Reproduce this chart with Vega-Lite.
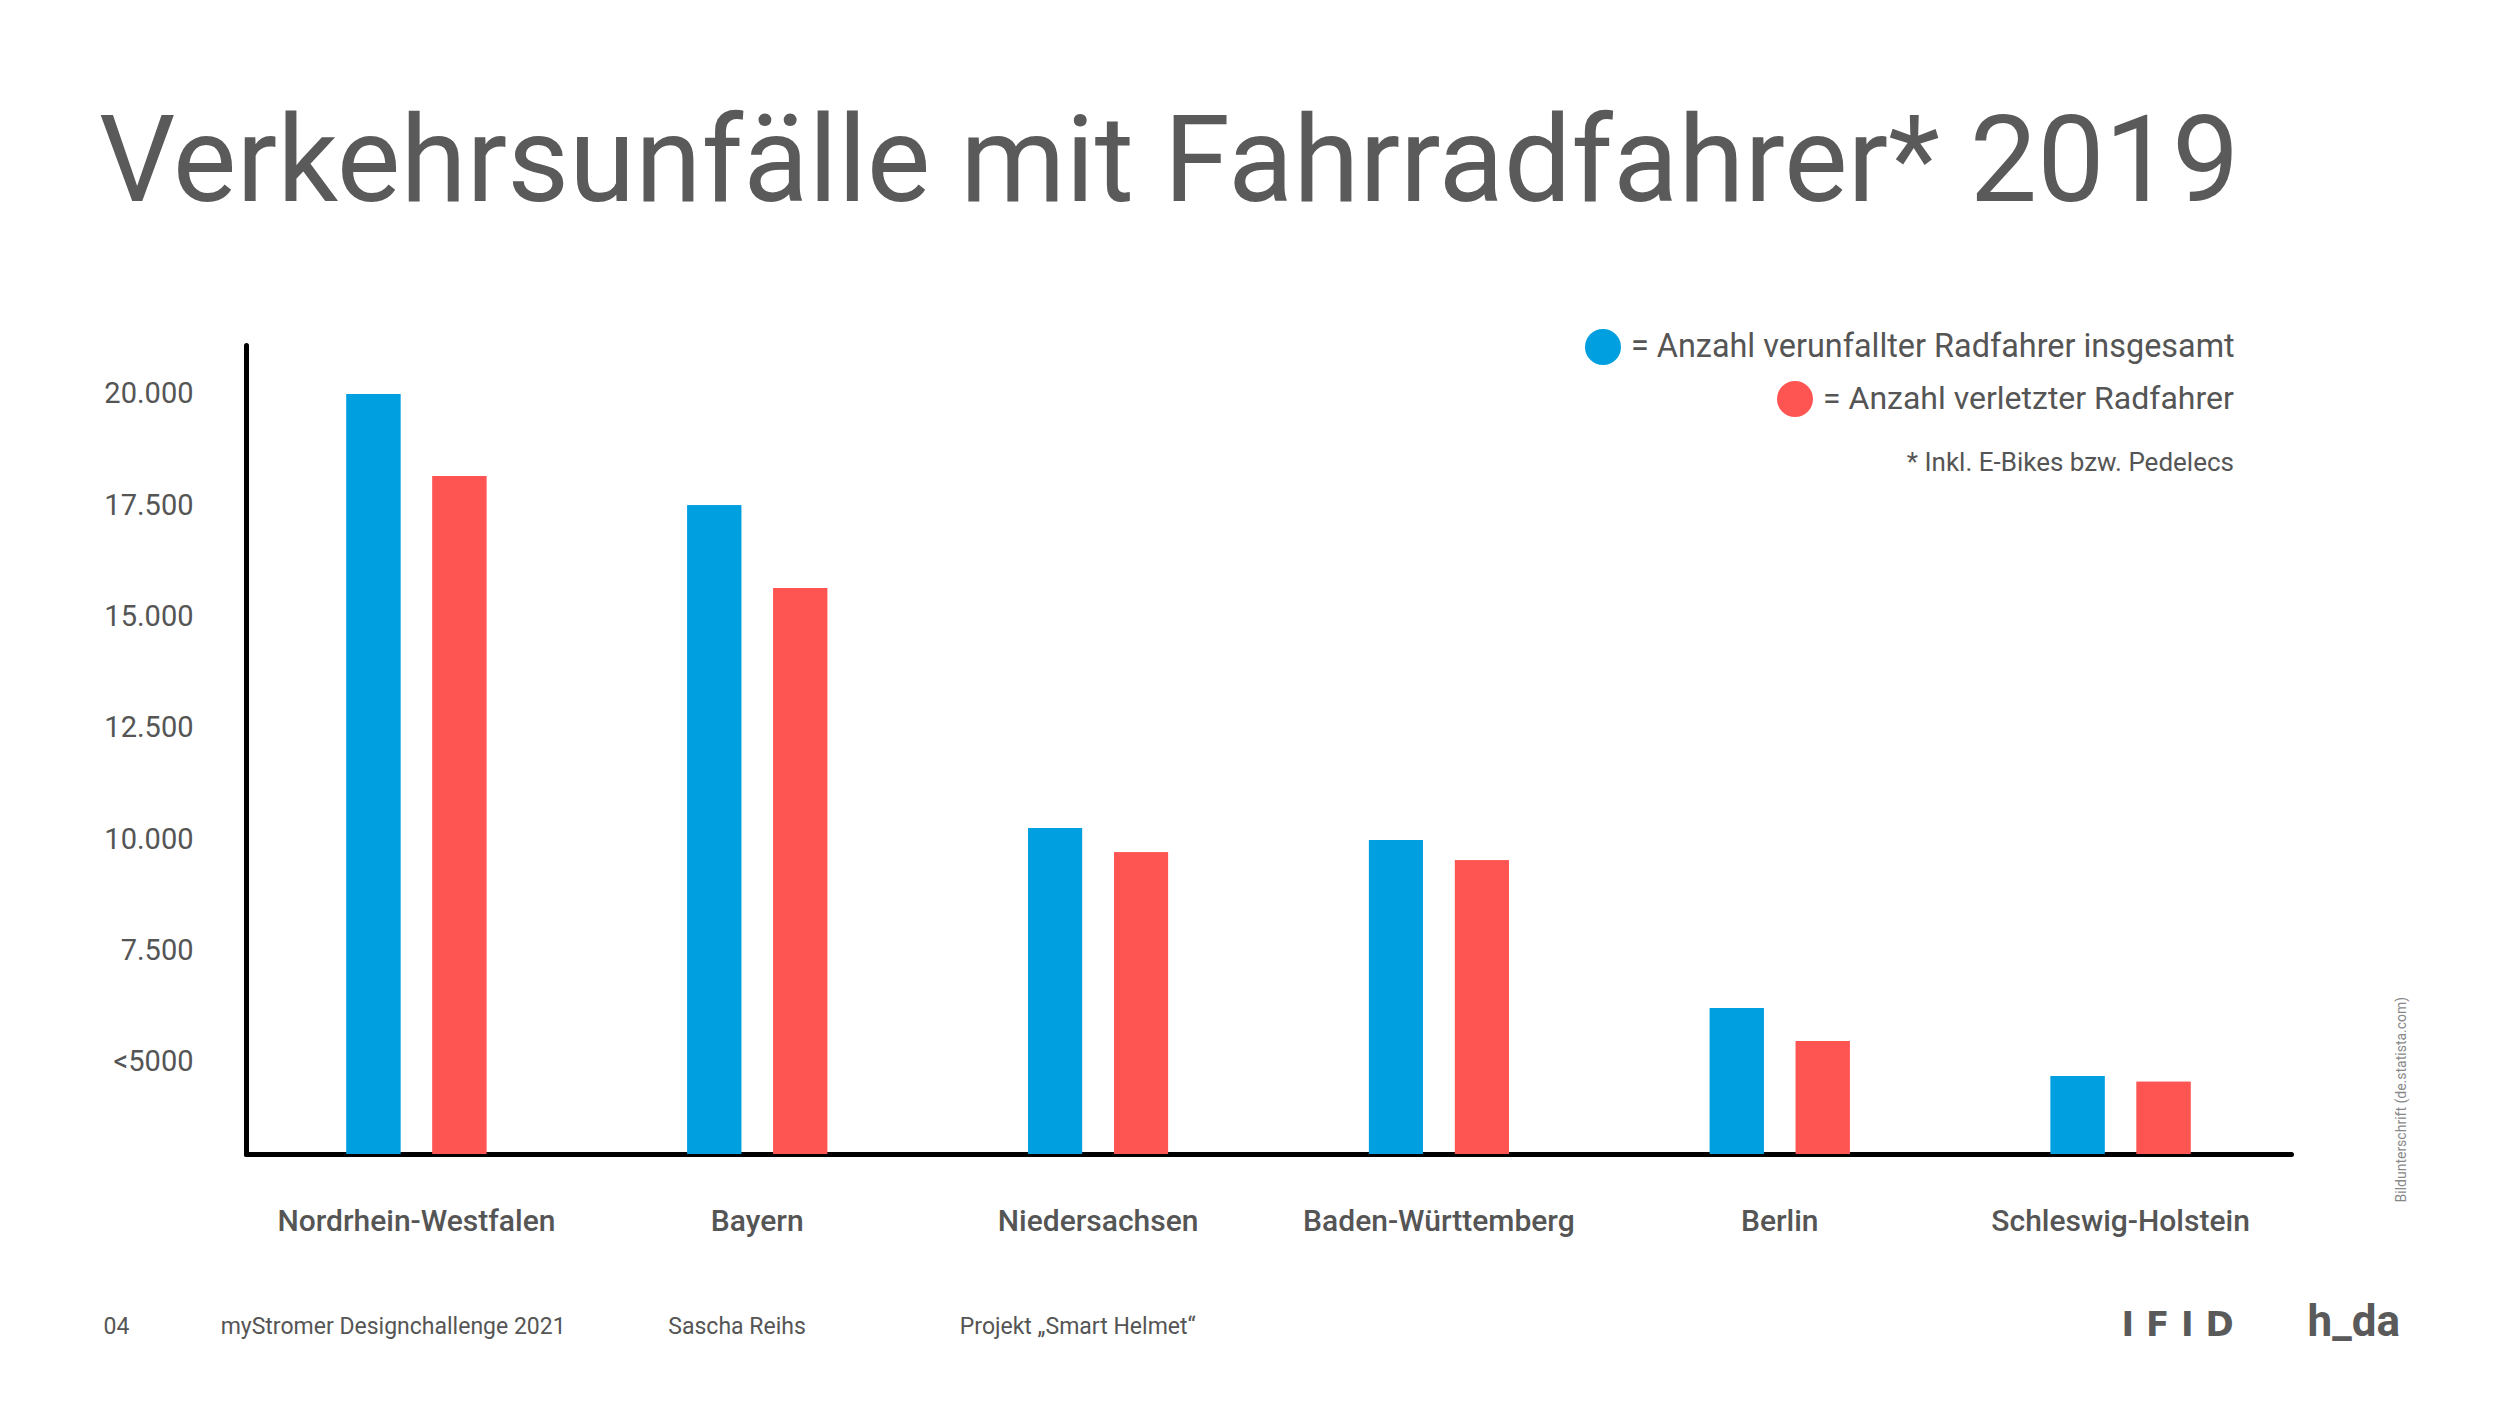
{
  "$schema": "https://vega.github.io/schema/vega-lite/v6.json",
  "width": 2045,
  "height": 809,
  "autosize": {"type": "none"},
  "padding": {"left": 246, "top": 345, "right": 209, "bottom": 252},
  "background": "white",
  "title": {
    "text": "Verkehrsunfälle mit Fahrradfahrer* 2019",
    "anchor": "start",
    "frame": "group",
    "dx": -147,
    "baseline": "alphabetic",
    "offset": 8,
    "font": "Roboto",
    "fontSize": 120,
    "fontWeight": "normal",
    "color": "#5a5a5a"
  },
  "data": {
    "values": [
      {"land": "Nordrhein-Westfalen", "reihe": "insgesamt", "anzahl": 20000},
      {"land": "Nordrhein-Westfalen", "reihe": "verletzt", "anzahl": 18160},
      {"land": "Bayern", "reihe": "insgesamt", "anzahl": 17500},
      {"land": "Bayern", "reihe": "verletzt", "anzahl": 15640},
      {"land": "Niedersachsen", "reihe": "insgesamt", "anzahl": 10250},
      {"land": "Niedersachsen", "reihe": "verletzt", "anzahl": 9710},
      {"land": "Baden-Württemberg", "reihe": "insgesamt", "anzahl": 9980},
      {"land": "Baden-Württemberg", "reihe": "verletzt", "anzahl": 9530},
      {"land": "Berlin", "reihe": "insgesamt", "anzahl": 6210},
      {"land": "Berlin", "reihe": "verletzt", "anzahl": 5470},
      {"land": "Schleswig-Holstein", "reihe": "insgesamt", "anzahl": 4680},
      {"land": "Schleswig-Holstein", "reihe": "verletzt", "anzahl": 4550}
    ]
  },
  "resolve": {
    "axis": {"x": "independent", "y": "independent"},
    "legend": {"color": "independent"}
  },
  "layer": [
    {
      "mark": {"type": "bar", "clip": true},
      "encoding": {
        "x": {
          "field": "land",
          "type": "nominal",
          "sort": null,
          "scale": {"paddingInner": 0.5894, "paddingOuter": 0.2947},
          "axis": {
            "orient": "bottom",
            "labelAngle": 0,
            "labelFont": "Roboto",
            "labelFontSize": 30,
            "labelFontWeight": 500,
            "labelColor": "#555555",
            "labelBaseline": "alphabetic",
            "labelPadding": 76,
            "labelLimit": 1000,
            "ticks": false,
            "tickSize": 0,
            "grid": false,
            "domainColor": "#000000",
            "domainWidth": 5,
            "domainCap": "round",
            "title": "04\u00a0\u00a0\u00a0\u00a0\u00a0\u00a0\u00a0\u00a0\u00a0\u00a0\u00a0\u00a0\u00a0\u00a0\u00a0\u00a0myStromer Designchallenge 2021\u00a0\u00a0\u00a0\u00a0\u00a0\u00a0\u00a0\u00a0\u00a0\u00a0\u00a0\u00a0\u00a0\u00a0\u00a0\u00a0\u00a0\u00a0Sascha Reihs\u00a0\u00a0\u00a0\u00a0\u00a0\u00a0\u00a0\u00a0\u00a0\u00a0\u00a0\u00a0\u00a0\u00a0\u00a0\u00a0\u00a0\u00a0\u00a0\u00a0\u00a0\u00a0\u00a0\u00a0\u00a0\u00a0\u00a0Projekt „Smart Helmet“",
            "titleX": -143,
            "titleY": 179,
            "titleAlign": "left",
            "titleAnchor": null,
            "titleBaseline": "alphabetic",
            "titleLimit": 2000,
            "titleFont": "Roboto",
            "titleFontSize": 23,
            "titleFontWeight": "normal",
            "titleColor": "#555555"
          }
        },
        "xOffset": {
          "field": "reihe",
          "type": "nominal",
          "scale": {"paddingInner": 0.372, "paddingOuter": 0}
        },
        "y": {
          "field": "anzahl",
          "type": "quantitative",
          "scale": {"domain": [2930, 21100], "zero": false, "nice": false},
          "axis": {
            "orient": "left",
            "values": [5000, 7500, 10000, 12500, 15000, 17500, 20000],
            "labelExpr": "datum.value == 5000 ? '<5000' : replace(format(datum.value, ',.0f'), ',', '.')",
            "labelFont": "Roboto",
            "labelFontSize": 29,
            "labelColor": "#555555",
            "labelPadding": 53,
            "ticks": false,
            "tickSize": 0,
            "grid": false,
            "domainColor": "#000000",
            "domainWidth": 5,
            "domainCap": "round",
            "title": "h_da",
            "titleX": 2061,
            "titleY": 990,
            "titleAngle": 0,
            "titleAlign": "left",
            "titleAnchor": null,
            "titleBaseline": "alphabetic",
            "titleFont": "Roboto",
            "titleFontSize": 44,
            "titleFontWeight": "bold",
            "titleColor": "#5a5a5a"
          }
        },
        "color": {
          "field": "reihe",
          "type": "nominal",
          "scale": {"domain": ["insgesamt", "verletzt"], "range": ["#009fe0", "#ff5552"]},
          "legend": {
            "orient": "none",
            "legendX": 1339,
            "legendY": -16,
            "values": ["insgesamt"],
            "labelExpr": "'= Anzahl verunfallter Radfahrer insgesamt'",
            "title": null,
            "padding": 0,
            "symbolType": "circle",
            "symbolSize": 1296,
            "symbolStrokeWidth": 0,
            "labelFont": "Roboto",
            "labelFontSize": 32.4,
            "labelColor": "#555555",
            "labelOffset": 10,
            "labelLimit": 1000
          }
        }
      }
    },
    {
      "mark": {"type": "bar", "clip": true},
      "encoding": {
        "x": {
          "field": "land",
          "type": "nominal",
          "sort": null,
          "axis": {
            "orient": "top",
            "labels": false,
            "ticks": false,
            "domain": false,
            "grid": false,
            "title": "I F I D",
            "titleX": 1875,
            "titleY": 990,
            "titleAlign": "left",
            "titleAnchor": null,
            "titleBaseline": "alphabetic",
            "titleFont": "DejaVu Sans",
            "titleFontSize": 34,
            "titleFontWeight": "bold",
            "titleColor": "#5a5a5a"
          }
        },
        "xOffset": {"field": "reihe", "type": "nominal"},
        "y": {
          "field": "anzahl",
          "type": "quantitative",
          "axis": {
            "orient": "right",
            "labels": false,
            "ticks": false,
            "domain": false,
            "grid": false,
            "title": "Bildunterschrift (de.statista.com)",
            "titleAngle": 270,
            "titleX": 110,
            "titleY": 857,
            "titleAlign": "left",
            "titleAnchor": null,
            "titleBaseline": "middle",
            "titleFont": "Roboto",
            "titleFontSize": 14,
            "titleFontWeight": "normal",
            "titleColor": "#888888"
          }
        },
        "color": {
          "field": "reihe",
          "type": "nominal",
          "legend": {
            "orient": "none",
            "legendX": 1531,
            "legendY": 36,
            "values": ["verletzt"],
            "labelExpr": "'= Anzahl verletzter Radfahrer'",
            "title": "* Inkl. E-Bikes bzw. Pedelecs",
            "titleOrient": "bottom",
            "titleAnchor": "end",
            "titlePadding": 33,
            "titleLimit": 1000,
            "titleFont": "Roboto",
            "titleFontSize": 26,
            "titleFontWeight": "normal",
            "titleColor": "#555555",
            "padding": 0,
            "symbolType": "circle",
            "symbolSize": 1296,
            "symbolStrokeWidth": 0,
            "labelFont": "Roboto",
            "labelFontSize": 32,
            "labelColor": "#555555",
            "labelOffset": 10,
            "labelLimit": 1000
          }
        }
      }
    }
  ],
  "config": {
    "view": {"stroke": null},
    "font": "Roboto"
  }
}
